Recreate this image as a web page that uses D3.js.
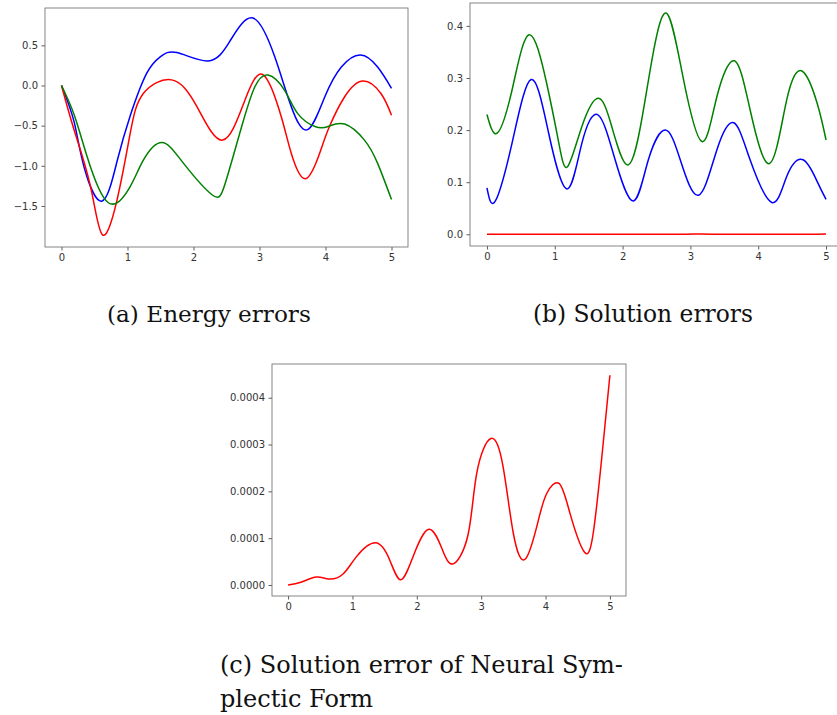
<!DOCTYPE html>
<html><head><meta charset="utf-8">
<script src="https://cdn.jsdelivr.net/npm/d3@7"></script>
<style>body{margin:0;background:#fff}svg{display:block}</style>
</head><body>
<svg id="c" width="837" height="715"></svg>
<script>
// ---------- DATA ----------
const xTicks = [0, 1, 2, 3, 4, 5];
const energyYTicks = [-1.5, -1.0, -0.5, 0.0, 0.5];
const solYTicks = [0.0, 0.1, 0.2, 0.3, 0.4];
const nsfYTicks = [0, 0.0001, 0.0002, 0.0003, 0.0004];

// (a) Energy errors
const energyBlueT = [0, 0.19, 0.34, 0.61, 0.84, 1.04, 1.29, 1.5, 1.75, 2.22, 2.55, 2.9, 3.23, 3.48, 3.73, 3.99, 4.24, 4.53, 4.79, 5];
const energyBlueV = [0, -0.45, -1.01, -1.44, -0.95, -0.38, 0.15, 0.36, 0.41, 0.305, 0.55, 0.84, 0.36, -0.26, -0.55, -0.14, 0.23, 0.38, 0.23, -0.035];
const energyRedT = [0, 0.19, 0.44, 0.62, 0.84, 1.04, 1.24, 1.67, 2.05, 2.44, 2.78, 3.06, 3.33, 3.48, 3.7, 3.93, 4.06, 4.29, 4.57, 4.84, 5];
const energyRedV = [0, -0.55, -1.26, -1.86, -1.43, -0.6, -0.1, 0.07, -0.26, -0.68, -0.18, 0.13, -0.39, -0.84, -1.16, -0.8, -0.51, -0.14, 0.056, -0.1, -0.37];
const energyGreenT = [0, 0.19, 0.39, 0.71, 1.04, 1.24, 1.52, 1.85, 2.28, 2.48, 2.73, 2.93, 3.13, 3.38, 3.58, 3.84, 4.04, 4.29, 4.59, 4.79, 5];
const energyGreenV = [0, -0.36, -0.89, -1.46, -1.26, -0.93, -0.71, -0.97, -1.36, -1.22, -0.51, -0.015, 0.13, -0.06, -0.35, -0.51, -0.51, -0.48, -0.68, -0.97, -1.42];

// (b) Solution errors
const solGreenT = [0, 0.15, 0.37, 0.62, 0.88, 1.06, 1.19, 1.4, 1.64, 1.84, 2.08, 2.29, 2.46, 2.66, 2.9, 3.17, 3.39, 3.65, 3.88, 4.17, 4.42, 4.65, 4.87, 5];
const solGreenV = [0.23, 0.194, 0.277, 0.383, 0.29, 0.175, 0.13, 0.207, 0.261, 0.207, 0.133, 0.226, 0.354, 0.423, 0.296, 0.178, 0.264, 0.333, 0.239, 0.136, 0.258, 0.313, 0.251, 0.181];
const solBlueT = [0, 0.12, 0.37, 0.65, 0.91, 1.18, 1.4, 1.64, 1.89, 2.16, 2.38, 2.63, 2.85, 3.12, 3.39, 3.64, 3.88, 4.2, 4.42, 4.66, 4.87, 5];
const solBlueV = [0.089, 0.063, 0.175, 0.297, 0.194, 0.087, 0.175, 0.229, 0.143, 0.064, 0.143, 0.2, 0.143, 0.075, 0.162, 0.214, 0.143, 0.061, 0.111, 0.143, 0.101, 0.067];

// (c) Solution error of Neural Symplectic Form (also red line in (b))
const nsfT = [0, 0.2, 0.44, 0.63, 0.85, 1.06, 1.36, 1.58, 1.75, 1.94, 2.19, 2.41, 2.58, 2.8, 2.93, 3.15, 3.34, 3.5, 3.69, 3.89, 4.02, 4.21, 4.38, 4.6, 4.74, 4.87, 5];
const nsfV = [0, 0.06e-4, 0.17e-4, 0.13e-4, 0.23e-4, 0.6e-4, 0.9e-4, 0.53e-4, 0.11e-4, 0.6e-4, 1.19e-4, 0.71e-4, 0.46e-4, 1.1e-4, 2.38e-4, 3.13e-4, 2.53e-4, 1.1e-4, 0.56e-4, 1.39e-4, 1.96e-4, 2.17e-4, 1.53e-4, 0.71e-4, 1.1e-4, 2.67e-4, 4.48e-4];

const captionA = "(a) Energy errors";
const captionB = "(b) Solution errors";
const captionC1 = "(c) Solution error of Neural Sym-";
const captionC2 = "plectic Form";

// ---------- DRAW ----------
const svg = d3.select("#c");
const minus = s => s.replace("-", "\u2212");

function panel(o) {
  const g = svg.append("g");
  const x = d3.scaleLinear().domain([-0.25, 5.25]).range([o.x0, o.x1]);
  const y = d3.scaleLinear().domain(o.yDom).range([o.y1, o.y0]);
  const line = d3.line().x(d => x(d[0])).y(d => y(d[1])).curve(d3.curveNatural);
  o.series.forEach(s => {
    g.append("path").datum(d3.zip(s.t, s.v))
      .attr("d", line).attr("fill", "none")
      .attr("stroke", s.color).attr("stroke-width", 1.5).attr("stroke-linejoin", "round");
  });
  const xa = g.append("g").attr("transform", `translate(0,${o.y1})`)
    .call(d3.axisBottom(x).tickValues(xTicks).tickSize(3.5).tickPadding(3.5).tickFormat(d3.format("d")));
  const ya = g.append("g").attr("transform", `translate(${o.x0},0)`)
    .call(d3.axisLeft(y).tickValues(o.yTicks).tickSize(3.5).tickPadding(3.5).tickFormat(d => minus(o.fmt(d))));
  [xa, ya].forEach(a => {
    a.select(".domain").remove();
    a.selectAll("line").attr("stroke", "#333").attr("stroke-width", 0.8);
    a.selectAll("text").attr("font-family", "DejaVu Sans").attr("font-size", 10).attr("fill", "#333");
  });
  g.append("rect").attr("x", o.x0).attr("y", o.y0).attr("width", o.x1 - o.x0).attr("height", o.y1 - o.y0)
    .attr("fill", "none").attr("stroke", "#666").attr("stroke-width", 0.8);
}

panel({ x0: 45, x1: 408, y0: 8, y1: 247, yDom: [-2.011, 0.965], yTicks: energyYTicks, fmt: d3.format(".1f"),
  series: [
    { t: energyBlueT, v: energyBlueV, color: "#0000ff" },
    { t: energyRedT, v: energyRedV, color: "#ff0000" },
    { t: energyGreenT, v: energyGreenV, color: "#008000" }] });

panel({ x0: 470, x1: 843, y0: 3, y1: 246, yDom: [-0.0225, 0.444], yTicks: solYTicks, fmt: d3.format(".1f"),
  series: [
    { t: solBlueT, v: solBlueV, color: "#0000ff" },
    { t: nsfT, v: nsfV, color: "#ff0000" },
    { t: solGreenT, v: solGreenV, color: "#008000" }] });

panel({ x0: 272, x1: 626, y0: 364, y1: 596, yDom: [-0.235e-4, 4.72e-4], yTicks: nsfYTicks, fmt: d3.format(".4f"),
  series: [{ t: nsfT, v: nsfV, color: "#ff0000" }] });

function caption(txt, x, yb, w) {
  const t = svg.append("text").attr("x", x).attr("y", yb).text(txt)
    .attr("font-family", "DejaVu Serif").attr("font-size", 20).attr("fill", "#111");
  const len = t.node().getComputedTextLength();
  const fs = 20 * w / len;
  t.attr("font-size", fs);
  return fs;
}
caption(captionA, 107, 322, 204);
caption(captionB, 533, 322, 220);
const fsC = caption(captionC1, 220, 673, 403);
svg.append("text").attr("x", 220).attr("y", 707).text(captionC2)
  .attr("font-family", "DejaVu Serif").attr("font-size", fsC).attr("fill", "#111");
</script>
</body></html>
